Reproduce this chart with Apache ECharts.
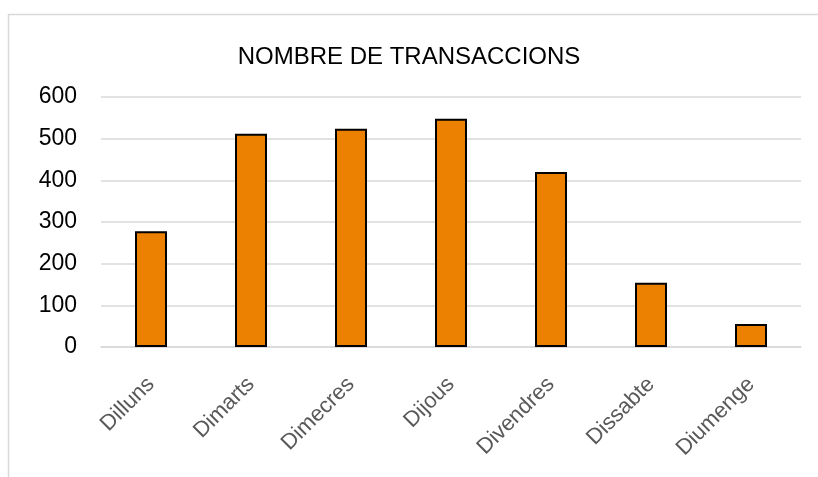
<!DOCTYPE html>
<html>
<head>
<meta charset="utf-8">
<title>Nombre de transaccions</title>
<script src="https://cdn.jsdelivr.net/npm/echarts@6/dist/echarts.min.js"></script>
<style>
  html, body { margin: 0; padding: 0; background: #fff; }
  #chart { width: 818px; height: 477px; }
</style>
</head>
<body>
<div id="chart"></div>
<script>
// dades
var dies = ['Dilluns', 'Dimarts', 'Dimecres', 'Dijous', 'Divendres', 'Dissabte', 'Diumenge'];
var transaccions = [278, 512, 524, 548, 420, 154, 55];
var yTicks = [0, 100, 200, 300, 400, 500, 600];

var chart = echarts.init(document.getElementById('chart'));

chart.setOption({
  animation: false,
  backgroundColor: '#fff',
  textStyle: { fontFamily: '"Liberation Sans", Arial, sans-serif' },
  // marc del grafic
  graphic: [{
    type: 'rect',
    silent: true,
    shape: { x: 8.5, y: 14.5, width: 830, height: 480 },
    style: { fill: 'none', stroke: '#D9D9D9', lineWidth: 1.5 }
  }],
  title: {
    text: 'NOMBRE DE TRANSACCIONS',
    left: 'center',
    top: 45,
    padding: 0,
    textStyle: { fontSize: 24, fontWeight: 'normal', color: '#000' }
  },
  grid: {
    left: 101,
    right: 17,
    top: 97,
    height: 250
  },
  xAxis: {
    type: 'category',
    data: dies,
    axisLine: { lineStyle: { color: '#D9D9D9', width: 1.5 } },
    axisTick: { show: false },
    axisLabel: {
      rotate: 45,
      interval: 0,
      margin: 34,
      fontSize: 22,
      color: '#595959'
    }
  },
  yAxis: {
    type: 'value',
    min: yTicks[0],
    max: yTicks[yTicks.length - 1],
    interval: 100,
    axisLine: { show: false },
    axisTick: { show: false },
    splitLine: { lineStyle: { color: '#D9D9D9', width: 1.5 } },
    axisLabel: { fontSize: 23, color: '#000', margin: 24 }
  },
  series: [{
    type: 'bar',
    data: transaccions,
    barWidth: 32,
    itemStyle: {
      color: '#EC8000',
      borderColor: '#000',
      borderWidth: 2
    }
  }]
});
</script>
</body>
</html>
